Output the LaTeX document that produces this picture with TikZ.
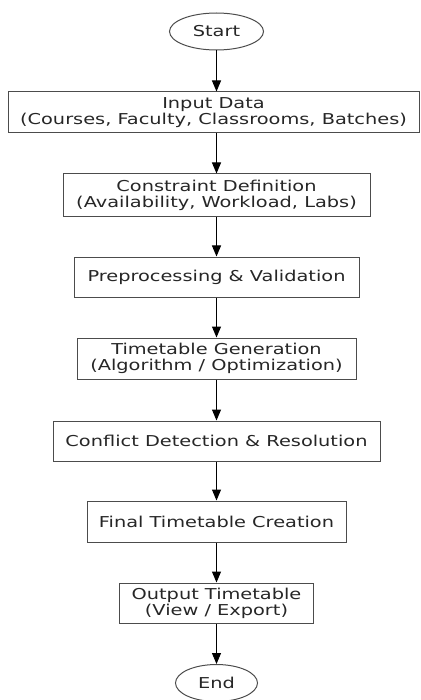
\documentclass[tikz,border=0pt]{standalone}
\usepackage{fontspec}
\setmainfont{DejaVu Sans}[FakeStretch=1.29]
\usetikzlibrary{arrows.meta,shapes.geometric}

\tikzset{
  box/.style={draw=black!70, line width=1pt, align=center, inner sep=0pt, text=black!85,
    font=\fontsize{15}{16}\selectfont},
  term/.style={box, ellipse},
  flow/.style={-{Triangle[length=11pt,width=9pt]}, line width=1pt}
}

\begin{document}
\begin{tikzpicture}[x=1pt,y=-1pt]
\useasboundingbox (0,0) rectangle (420,700);
\node[term, minimum width=94pt, minimum height=37pt] (start) at (216.5,31.5) {Start};
\node[box, minimum width=411pt, minimum height=41pt] (input) at (213.5,112.5) {Input Data\\(Courses, Faculty, Classrooms, Batches)};
\node[box, minimum width=307pt, minimum height=43pt] (constr) at (216.5,195.5) {Constraint Definition\\(Availability, Workload, Labs)};
\node[box, minimum width=285pt, minimum height=40pt] (prep) at (216.5,277) {Preprocessing \& Validation};
\node[box, minimum width=279pt, minimum height=41pt] (gen) at (216.5,358.5) {Timetable Generation\\(Algorithm / Optimization)};
\node[box, minimum width=327pt, minimum height=40pt] (conflict) at (216.5,441) {Conflict Detection \& Resolution};
\node[box, minimum width=259pt, minimum height=41pt] (final) at (216.5,521.5) {Final Timetable Creation};
\node[box, minimum width=194pt, minimum height=40pt] (output) at (216.5,603) {Output Timetable\\(View / Export)};
\node[term, minimum width=82pt, minimum height=37pt] (end) at (216.5,683) {End};
% arrows
\draw[flow] (start) -- (start |- input.north);
\draw[flow] (input.south -| constr) -- (constr);
\draw[flow] (constr) -- (prep);
\draw[flow] (prep) -- (gen);
\draw[flow] (gen) -- (conflict);
\draw[flow] (conflict) -- (final);
\draw[flow] (final) -- (output);
\draw[flow] (output) -- (end);
\end{tikzpicture}
\end{document}
